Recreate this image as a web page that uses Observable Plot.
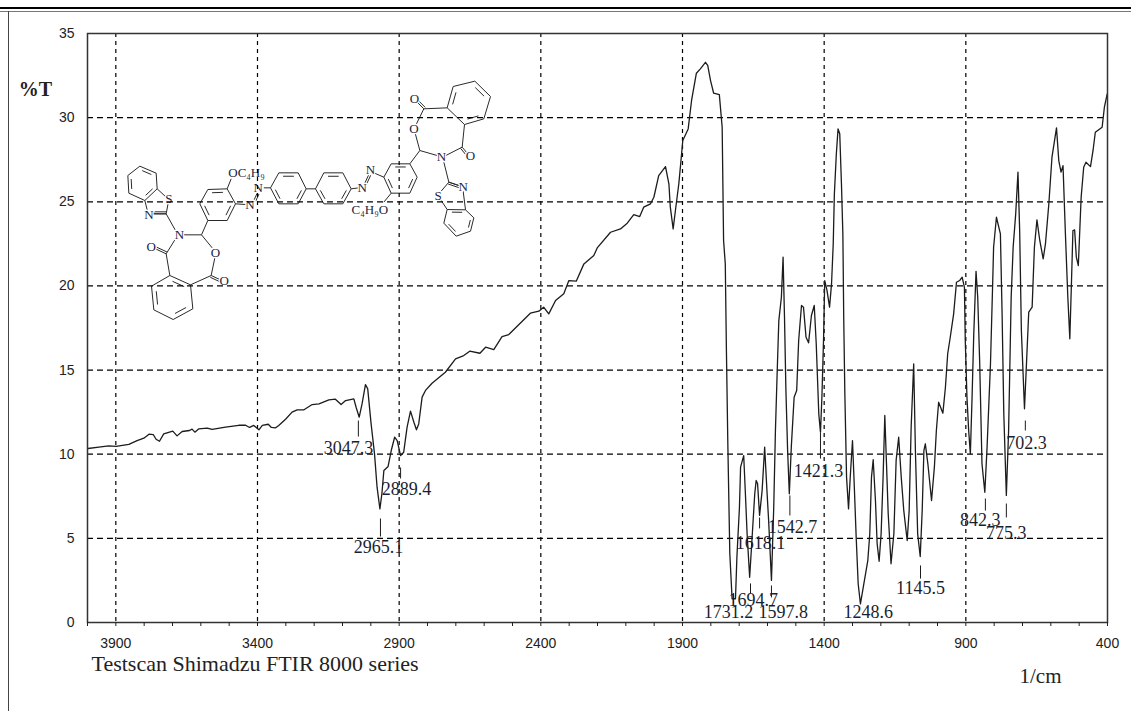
<!DOCTYPE html>
<html>
<head>
<meta charset="utf-8">
<script src="https://cdn.jsdelivr.net/npm/d3@7"></script>
<script src="https://cdn.jsdelivr.net/npm/@observablehq/plot@0.6"></script>
<style>
html,body{margin:0;padding:0;background:#fff;overflow:hidden}
#page{position:relative;width:1131px;height:711px}
#bar{position:absolute;left:0;right:0;top:7px;height:2px;background:#000}
#rule{position:absolute;left:0;right:0;top:11px;height:1px;background:#777}
#edge{position:absolute;left:8px;top:11px;bottom:0;width:1px;background:#444}
#chart{position:absolute;left:0;top:0}
</style>
</head>
<body>
<div id="page"><div id="bar"></div><div id="rule"></div><div id="edge"></div><div id="chart"></div></div>
<script>
// Spectrum: [wavenumber 1/cm, %T]
const baselineRegion = [[3998,10.34],[3960,10.42],[3925,10.50],[3899,10.46],[3854,10.58],[3825,10.81],[3801,10.95],[3783,11.19],[3768,11.17],[3758,10.89],[3746,10.77],[3731,11.21],[3699,11.37],[3684,11.09],[3666,11.35],[3640,11.41],[3631,11.49],[3621,11.31],[3607,11.51],[3578,11.55],[3560,11.47],[3513,11.61],[3466,11.72],[3442,11.72],[3428,11.59],[3413,11.71],[3395,11.45],[3383,11.71],[3362,11.78],[3351,11.59],[3336,11.57],[3325,11.71],[3301,12.08],[3278,12.50],[3260,12.64],[3236,12.64],[3207,12.95],[3183,12.99]];
const chRegion = [[3148,13.23],[3125,13.27],[3105,12.95],[3089,13.19],[3060,13.29],[3052,12.79],[3041,12.20],[3031,12.99],[3019,14.14],[3011,13.88],[2999,11.80],[2987,10.02],[2978,8.04],[2968,6.75],[2961,7.65],[2954,9.03],[2939,9.27],[2928,10.22],[2916,11.01],[2907,10.81],[2895,9.92],[2884,10.12],[2872,11.61],[2860,12.56],[2848,11.90],[2839,11.45],[2831,11.80],[2819,13.39],[2807,13.79],[2784,14.22]];
const riseRegion = [[2737,14.87],[2701,15.67],[2672,15.86],[2651,16.12],[2615,16.00],[2595,16.36],[2566,16.22],[2537,16.99],[2513,17.11],[2437,18.38],[2407,18.50],[2390,18.74],[2372,18.34],[2348,19.13],[2319,19.53],[2301,20.32],[2275,20.28],[2248,21.31],[2213,21.81],[2201,22.26],[2154,23.19],[2119,23.39],[2095,23.73],[2072,24.24],[2051,24.12],[2037,24.68],[2013,24.88],[2001,25.27],[1984,26.56],[1960,27.09],[1948,26.07],[1943,24.68],[1933,23.39],[1925,24.48],[1913,26.07],[1907,27.15],[1899,28.64],[1880,29.33],[1868,31.02],[1851,32.64],[1837,32.90],[1819,33.29],[1811,33.10],[1801,32.20],[1790,31.45],[1770,31.37],[1760,29.43]];
const carbonylRegion = [[1755,22.70],[1749,21.31],[1745,16.16],[1740,10.62],[1733,4.08],[1725,1.41],[1713,1.41],[1708,3.88],[1699,6.85],[1695,9.23],[1684,9.92],[1678,7.65],[1672,5.27],[1663,2.69],[1655,4.87],[1645,7.65],[1640,8.44],[1635,8.24],[1628,6.36],[1619,7.84],[1610,10.42],[1602,7.84],[1596,6.06],[1586,2.50],[1578,6.85],[1572,11.41],[1566,14.78],[1560,17.94],[1551,19.33],[1545,21.71],[1540,18.14],[1535,13.79],[1529,10.22],[1523,7.65],[1516,10.42],[1506,13.39],[1497,13.79],[1490,16.76],[1480,18.84],[1473,18.74],[1464,16.95],[1455,16.62],[1445,18.24],[1435,18.84],[1428,16.56],[1419,12.40],[1413,11.31],[1408,13.39],[1402,16.95],[1398,20.32],[1390,19.73]];
const fingerprintRegion = [[1381,18.74],[1374,20.12],[1368,22.50],[1364,25.47],[1357,27.85],[1351,29.33],[1345,29.04],[1339,26.07],[1334,23.09],[1331,18.14],[1327,13.59],[1321,8.64],[1314,6.75],[1308,8.64],[1300,10.81],[1294,8.24],[1287,5.07],[1280,2.30],[1272,1.11],[1260,2.30],[1246,3.68],[1239,5.27],[1233,8.64],[1227,9.67],[1219,7.25],[1213,4.68],[1206,3.64],[1199,5.27],[1192,8.64],[1186,12.30],[1180,9.43],[1174,6.46],[1164,3.49],[1154,5.27],[1146,9.63],[1137,11.01],[1128,8.64],[1119,6.65],[1107,4.87],[1100,6.65],[1093,11.61],[1084,15.37],[1078,10.22],[1070,5.27],[1061,3.92],[1054,6.65],[1048,10.22],[1043,10.62],[1034,9.43],[1021,7.25],[1011,9.23],[1004,11.41],[996,13.09],[981,12.44],[972,13.98],[964,15.97]];
const lowRegion = [[955,16.95],[943,18.34],[933,20.22],[922,20.32],[913,20.52],[905,19.92],[902,16.76],[896,13.39],[890,11.41],[884,10.02],[878,13.39],[872,17.15],[864,20.87],[858,19.33],[851,15.37],[843,9.43],[833,7.74],[825,10.42],[813,15.37],[805,20.32],[802,22.30],[792,24.08],[778,23.09],[772,18.34],[766,12.40],[757,7.55],[749,11.41],[740,19.33],[733,22.30],[724,24.28],[716,26.76],[710,23.29],[704,17.35],[693,12.70],[686,15.37],[678,18.44],[666,18.74],[658,22.30],[649,23.93],[639,22.70],[627,21.61],[619,22.50],[607,24.88],[596,27.65],[580,29.39],[572,27.45],[564,26.76],[557,27.15],[549,23.29],[540,19.33],[533,16.86],[527,20.32],[522,23.29],[516,23.33],[510,21.71],[503,21.21],[493,25.27],[484,27.05],[476,27.35],[460,27.09],[451,28.05],[443,29.13],[419,29.43],[411,30.62],[401,31.41]];
const spectrum = [...baselineRegion, ...chRegion, ...riseRegion, ...carbonylRegion, ...fingerprintRegion, ...lowRegion];

// Peak annotations
const peakNames = ["3047.3","2889.4","2965.1","1421.3","1542.7","1618.1","1694.7","1731.2","1597.8","1248.6","1145.5","842.3","775.3","702.3"];
const peakLabelWn = [3079,2874,2973,1420,1512,1625,1650,1738,1544,1244,1060,849,757,686];
const peakLabelT = [10.37,7.90,4.46,8.97,5.64,4.69,1.31,0.59,0.59,0.59,2.02,6.06,5.29,10.64];
// Peak leader dashes: [wavenumber, %T from, %T to]
const peakLeaders = [[3044,12.0,11.05],[2966,6.18,5.11],[2895,9.21,8.56],[1413,11.29,9.74],[1521,7.55,6.36],[1628,6.24,5.59],[1660,2.32,1.72],[1720,1.72,1.13],[1586,2.20,1.49],[1060,3.39,2.61],[831,7.37,6.65],[757,7.07,6.24],[690,12.0,11.41]];

// Axes
const gridWn = [3900,3400,2900,2400,1900,1400,900];
const gridT = [5,10,15,20,25,30];
const tickWn = d3.range(4000,399,-100);
const labelWn = [3900,3400,2900,2400,1900,1400,900,400];
const labelT = [0,5,10,15,20,25,30,35];

// Structure sketch (sketch units: 3 per screen pixel); rings have double-bond edge indices.
const molRings = [
 {p:[[418,497],[467,518],[470,565],[433,600],[385,578],[382,525]],d:[0,2,4]},
 {p:[[508,825],[570,853],[577,925],[518,957],[460,928],[453,857]],d:[0,2,4]},
 {p:[[622,660],[680,660],[705,610],[680,565],[622,567],[598,610]],d:[1,3,5]},
 {p:[[810,562],[835,517],[893,517],[917,565],[893,610],[835,610]],d:[1,3,5]},
 {p:[[945,565],[970,517],[1027,517],[1052,565],[1027,610],[970,610]],d:[1,3,5]},
 {p:[[1150,530],[1172,490],[1228,490],[1250,530],[1228,578],[1172,578]],d:[1,3,5]},
 {p:[[1340,322],[1392,372],[1450,355],[1470,288],[1423,242],[1358,258]],d:[1,3,5]},
 {p:[[1340,627],[1395,628],[1420,652],[1410,692],[1367,707],[1330,668]],d:[0,2,4]}
];
const molBonds = [
 [470,565,497,590],[433,600,440,628],[503,608,497,640],[497,640,458,640],[497,640,525,690],
 [548,703,603,703],[603,703,635,742],[643,772,632,825],[632,825,570,853],[525,715,497,760],[497,760,508,825],
 [603,703,622,660],[680,565,692,535],[705,610,735,612],[790,562,810,562],[917,565,945,565],
 [1052,565,1075,562],[1122,518,1150,530],[1172,578,1150,605],[1228,490,1258,450],[1258,450,1244,398],[1258,450,1310,465],
 [1248,370,1270,325],[1270,325,1340,322],[1336,465,1385,440],[1385,440,1392,372],[1330,485,1345,545],[1345,545,1322,572],
 [1322,600,1340,627],[1345,545,1378,556],[1388,572,1395,628]
];
const molDoubleBonds = [[632,825,660,838],[497,760,465,745],[760,600,770,578],[1092,550,1105,522],[1270,325,1250,305],[1385,440,1400,458],[497,640,458,640],[1345,545,1378,556]];
const molAtoms = [["S",505,596],["N",445,642],["N",537,704],["O",645,756],["O",671,841],["O",452,739],["OC₄H₉",738,518],["N",748,612],["N",773,562],["N",1085,562],["N",1110,507],["C₄H₉O",1108,627],["O",1240,385],["O",1242,295],["O",1410,467],["N",1323,470],["S",1313,585],["N",1388,558]];

// Map sketch units onto the chart's data coordinates
const sketchWn = v => 4000 - (v / 3 - 87) * 3600 / 1020;
const sketchT = v => (622 - v / 3) * 35 / 589;

const bondRows = [];
const addBond = (a, b, c, d) => bondRows.push({x1: sketchWn(a), y1: sketchT(b), x2: sketchWn(c), y2: sketchT(d)});
for (const r of molRings) {
  const cx = d3.mean(r.p, q => q[0]), cy = d3.mean(r.p, q => q[1]);
  r.p.forEach((q, i) => {
    const n = r.p[(i + 1) % r.p.length];
    addBond(q[0], q[1], n[0], n[1]);
    if (r.d.includes(i)) {
      const s = 0.78, t = 0.14;
      const ax = cx + (q[0] - cx) * s, ay = cy + (q[1] - cy) * s;
      const bx = cx + (n[0] - cx) * s, by = cy + (n[1] - cy) * s;
      addBond(ax + (bx - ax) * t, ay + (by - ay) * t, bx - (bx - ax) * t, by - (by - ay) * t);
    }
  });
}
molBonds.forEach(b => addBond(...b));
molDoubleBonds.forEach(([a, b, c, d]) => {
  const l = Math.hypot(c - a, d - b), nx = -(d - b) / l * 6, ny = (c - a) / l * 6;
  addBond(a, b, c, d);
  addBond(a + nx, b + ny, c + nx, d + ny);
});

const serif = "'Liberation Serif', serif";
const sans = "'Liberation Sans', sans-serif";
const ink = "#1c1c1c";

const plot = Plot.plot({
  width: 1131, height: 711,
  marginLeft: 87, marginRight: 24, marginTop: 33, marginBottom: 89,
  style: {background: "transparent", fontFamily: sans},
  x: {domain: [4000, 400], label: null},
  y: {domain: [0, 35], label: null},
  marks: [
    // structure
    Plot.link(bondRows, {x1: "x1", y1: "y1", x2: "x2", y2: "y2", stroke: "#2a2a2a", strokeWidth: 1}),
    Plot.text(molAtoms, {x: d => sketchWn(d[1]), y: d => sketchT(d[2]), text: d => d[0], fontFamily: serif, fontSize: 13, fill: "#1a2440", stroke: "white", strokeWidth: 2.5}),
    // grid
    Plot.ruleX(gridWn, {stroke: "#000", strokeWidth: 1.2, strokeDasharray: "4,4"}),
    Plot.ruleY(gridT, {stroke: "#000", strokeWidth: 1.2, strokeDasharray: "6,4"}),
    // spectrum
    Plot.line(spectrum, {x: d => d[0], y: d => d[1], stroke: ink, strokeWidth: 1.3, curve: "linear"}),
    // peak marks
    Plot.link(peakLeaders, {x1: d => d[0], x2: d => d[0], y1: d => d[1], y2: d => d[2], stroke: ink, strokeWidth: 1}),
    Plot.text(peakNames, {x: (d, i) => peakLabelWn[i], y: (d, i) => peakLabelT[i], text: d => d, fontFamily: serif, fontSize: 18, fill: "#1a1f30"}),
    // axes
    Plot.frame({stroke: "#333", strokeWidth: 1.5}),
    Plot.axisX({ticks: tickWn, tickSize: 4, tickFormat: () => "", stroke: "#222", label: null}),
    Plot.axisX({ticks: labelWn, tickSize: 0, tickPadding: 16, tickFormat: d => String(d), fontFamily: sans, fontSize: 14, fill: "#222", label: null}),
    Plot.axisY({ticks: labelT, tickSize: 0, tickPadding: 13, tickFormat: d => String(d), fontFamily: sans, fontSize: 14, fill: "#222", label: null}),
    // labels
    Plot.text(["%T"], {x: sketchWn(105), y: sketchT(267), text: d => d, fontFamily: serif, fontSize: 20, fontWeight: "bold", fill: "#222", clip: false}),
    Plot.text(["Testscan Shimadzu FTIR 8000 series"], {x: sketchWn(273), y: sketchT(1989), text: d => d, textAnchor: "start", fontFamily: serif, fontSize: 22, fill: "#222", clip: false}),
    Plot.text(["1/cm"], {x: sketchWn(3120), y: sketchT(2028), text: d => d, fontFamily: serif, fontSize: 21, fill: "#222", clip: false})
  ]
});
document.getElementById("chart").appendChild(plot);
</script>
</body>
</html>
